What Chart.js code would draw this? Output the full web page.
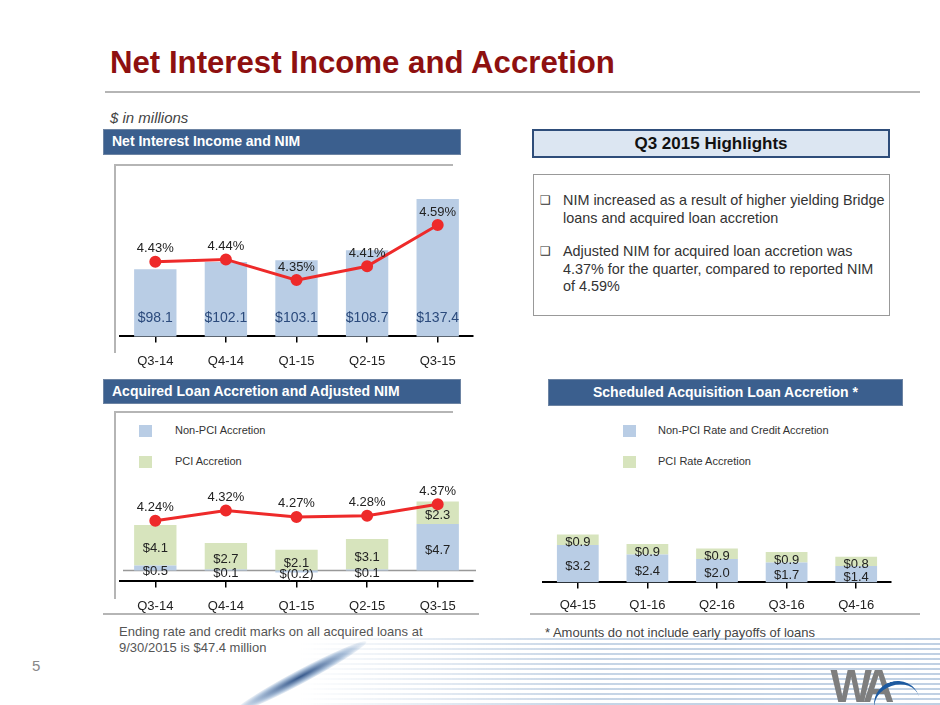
<!DOCTYPE html>
<html>
<head>
<meta charset="utf-8">
<script src="https://cdn.jsdelivr.net/npm/chart.js@4.4.1/dist/chart.umd.min.js"></script>
<style>
  body { margin: 0; background: #fff; font-family: "Liberation Sans", Arial, sans-serif; }
  #page { position: relative; width: 940px; height: 705px; overflow: hidden; }
  .abs { position: absolute; }
  .hdr { background: #3b5f8e; color: #fff; font-weight: bold; font-size: 14px; border: 1px solid #6d84a3; box-sizing: border-box; }
  .gl { background: #b5b5b5; }
  .leg { width: 13px; height: 12px; }
  .legt { font-size: 11px; color: #333; }
  .blt { font-size: 14.4px; color: #333; line-height: 17.5px; }
  .bx { font-family: "DejaVu Sans", sans-serif; font-size: 12px; color: #333; }
</style>
</head>
<body>
<div id="page">
  <!-- bottom decoration -->
  <div class="abs" style="left:300px;top:638px;width:640px;height:67px;background:repeating-linear-gradient(180deg, rgba(140,170,205,0.55) 0 2px, rgba(255,255,255,0) 2px 5px);-webkit-mask-image:linear-gradient(to right, transparent 0%, rgba(0,0,0,0.9) 45%, #000 100%);"></div>
  <div class="abs" style="left:225px;top:670px;width:150px;height:14px;border-radius:50%;background:radial-gradient(ellipse at center, rgba(20,60,120,0.85) 0%, rgba(60,110,170,0.4) 50%, rgba(255,255,255,0) 75%);transform:rotate(-28deg);"></div>

  <div class="abs" style="left:110px;top:45px;font-size:31.2px;font-weight:bold;color:#8e1010;white-space:nowrap;">Net Interest Income and Accretion</div>
  <div class="abs gl" style="left:105px;top:91px;width:815px;height:2px;"></div>
  <div class="abs" style="left:110px;top:109px;font-size:15px;font-style:italic;color:#444;">$ in millions</div>

  <div class="abs hdr" style="left:103px;top:129px;width:358px;height:26px;padding:3px 0 0 8px;">Net Interest Income and NIM</div>
  <div class="abs gl" style="left:115px;top:164px;width:338px;height:2px;"></div>
  <div class="abs gl" style="left:114px;top:164px;width:2px;height:189px;"></div>

  <div class="abs hdr" style="left:103px;top:379px;width:358px;height:25px;padding:3px 0 0 8px;">Acquired Loan Accretion and Adjusted NIM</div>
  <div class="abs gl" style="left:115px;top:411px;width:338px;height:2px;"></div>
  <div class="abs gl" style="left:114px;top:411px;width:2px;height:188px;"></div>
  <div class="abs gl" style="left:103px;top:613px;width:376px;height:2px;"></div>

  <div class="abs leg" style="left:139px;top:425px;background:#b9cde5;"></div>
  <div class="abs legt" style="left:175px;top:424px;">Non-PCI Accretion</div>
  <div class="abs leg" style="left:139px;top:456px;background:#d7e4bd;"></div>
  <div class="abs legt" style="left:175px;top:455px;">PCI Accretion</div>

  <div class="abs" style="left:119px;top:624px;font-size:13px;color:#555;line-height:16px;">Ending rate and credit marks on all acquired loans at<br>9/30/2015 is $47.4 million</div>

  <div class="abs" style="left:532px;top:129px;width:358px;height:29px;background:#dce6f2;border:2px solid #2e4d7a;box-sizing:border-box;text-align:center;font-weight:bold;font-size:17px;line-height:25px;color:#111;">Q3 2015 Highlights</div>
  <div class="abs" style="left:533px;top:174px;width:357px;height:142px;border:1px solid #999;box-sizing:border-box;"></div>
  <div class="abs bx" style="left:540px;top:193px;">&#10065;</div>
  <div class="abs blt" style="left:563px;top:192px;">NIM increased as a result of higher yielding Bridge<br>loans and acquired loan accretion</div>
  <div class="abs bx" style="left:540px;top:244px;">&#10065;</div>
  <div class="abs blt" style="left:563px;top:243px;">Adjusted NIM for acquired loan accretion was<br>4.37% for the quarter, compared to reported NIM<br>of 4.59%</div>

  <div class="abs hdr" style="left:548px;top:379px;width:355px;height:27px;padding-top:4px;text-align:center;">Scheduled Acquisition Loan Accretion *</div>
  <div class="abs leg" style="left:623px;top:425px;background:#b9cde5;"></div>
  <div class="abs legt" style="left:658px;top:424px;">Non-PCI Rate and Credit Accretion</div>
  <div class="abs leg" style="left:623px;top:456px;background:#d7e4bd;"></div>
  <div class="abs legt" style="left:658px;top:455px;">PCI Rate Accretion</div>
  <div class="abs gl" style="left:530px;top:613px;width:390px;height:2px;"></div>
  <div class="abs" style="left:545px;top:625px;font-size:13px;color:#444;">* Amounts do not include early payoffs of loans</div>

  <div class="abs" style="left:32px;top:657px;font-size:15px;color:#888;">5</div>
  <div class="abs" style="left:829px;top:659px;font-size:46px;font-weight:bold;color:#7e7e7e;letter-spacing:-7px;transform:scaleX(0.95);">WA</div>
  <div class="abs" style="left:874px;top:681px;width:46px;height:40px;border-top:4px solid #1d5aa0;border-radius:50%;transform:rotate(-18deg);"></div>

  <canvas id="c1" class="abs" style="left:100px;top:160px;width:390px;height:226px;"></canvas>
  <canvas id="c2" class="abs" style="left:100px;top:407px;width:390px;height:226px;"></canvas>
  <canvas id="c3" class="abs" style="left:530px;top:407px;width:380px;height:225px;"></canvas>
</div>
<script>
const quarters = ['Q3-14', 'Q4-14', 'Q1-15', 'Q2-15', 'Q3-15'];
const netInterestIncome = [98.1, 102.1, 103.1, 108.7, 137.4];
const nim = [4.43, 4.44, 4.35, 4.41, 4.59];

const nonPciAccretion = [0.5, 0.1, -0.2, 0.1, 4.7];
const pciAccretion = [4.1, 2.7, 2.1, 3.1, 2.3];
const adjustedNim = [4.24, 4.32, 4.27, 4.28, 4.37];

const futureQuarters = ['Q4-15', 'Q1-16', 'Q2-16', 'Q3-16', 'Q4-16'];
const scheduledNonPci = [3.2, 2.4, 2.0, 1.7, 1.4];
const scheduledPci = [0.9, 0.9, 0.9, 0.9, 0.8];

const FONT = '"Liberation Sans", Arial, sans-serif';
const BLUE = '#b9cde5';
const GREEN = '#d7e4bd';
const RED = '#ee2a2a';

Chart.defaults.font.family = FONT;
Chart.defaults.animation = false;

function money(v) {
    return v < 0 ? '$(' + Math.abs(v).toFixed(1) + ')' : '$' + v.toFixed(1);
}

function xAxis(pad) {
    return {
        stacked: true,
        grid: { display: true, drawOnChartArea: false, offset: false, tickLength: 6, color: '#000', lineWidth: 1.5 },
        border: { display: true, color: '#000', width: 2 },
        ticks: { color: '#222', font: { size: 13 }, padding: pad }
    };
}

// labels drawn on top of the bars and points
const labelPlugin = {
    id: 'valueLabels',
    afterDatasetsDraw(chart, args, opts) {
        const ctx = chart.ctx;
        const bottom = chart.chartArea.bottom;
        ctx.save();
        ctx.textAlign = 'center';
        ctx.textBaseline = 'middle';
        chart.data.datasets.forEach((ds, i) => {
            const meta = chart.getDatasetMeta(i);
            meta.data.forEach((el, j) => {
                const v = ds.data[j];
                if (ds.type === 'line') {
                    ctx.fillStyle = '#222';
                    ctx.font = '13px ' + FONT;
                    ctx.fillText(v.toFixed(2) + '%', el.x, el.y - 13);
                } else if (opts.mode === 'base') {
                    ctx.fillStyle = '#2b4a7c';
                    ctx.font = '14px ' + FONT;
                    ctx.fillText(money(v), el.x, Math.min(el.base, bottom) - 18);
                } else {
                    ctx.fillStyle = '#222';
                    ctx.font = '13px ' + FONT;
                    ctx.fillText(money(v), el.x, (el.y + el.base) / 2 + 3);
                }
            });
        });
        ctx.restore();
    }
};

// thin gray line at zero
const zeroLine = {
    id: 'zeroLine',
    beforeDatasetsDraw(chart) {
        const y = chart.scales.y.getPixelForValue(0);
        const a = chart.chartArea;
        const ctx = chart.ctx;
        ctx.save();
        ctx.strokeStyle = '#999';
        ctx.lineWidth = 1.5;
        ctx.beginPath();
        ctx.moveTo(a.left + 3, y);
        ctx.lineTo(a.right + 3, y);
        ctx.stroke();
        ctx.restore();
    }
};

new Chart(document.getElementById('c1'), {
    data: {
        labels: quarters,
        datasets: [
            { type: 'line', data: nim, yAxisID: 'y1', order: 0, borderColor: RED, backgroundColor: RED, borderWidth: 3, pointRadius: 4.5, pointHoverRadius: 4.5 },
            { type: 'bar', data: netInterestIncome, yAxisID: 'y', order: 1, backgroundColor: BLUE, barPercentage: 0.6, categoryPercentage: 1 }
        ]
    },
    options: {
        responsive: false,
        layout: { padding: { left: 20, right: 17, top: 5, bottom: 6 } },
        plugins: { legend: { display: false }, tooltip: { enabled: false }, valueLabels: { mode: 'base' } },
        scales: {
            x: xAxis(11),
            y: { display: false, min: 60.5, max: 155 },
            y1: { display: false, min: 4.105, max: 4.84 }
        }
    },
    plugins: [labelPlugin]
});

new Chart(document.getElementById('c2'), {
    data: {
        labels: quarters,
        datasets: [
            { type: 'line', data: adjustedNim, yAxisID: 'y1', order: 0, borderColor: RED, backgroundColor: RED, borderWidth: 3, pointRadius: 4.5, pointHoverRadius: 4.5 },
            { type: 'bar', label: 'Non-PCI Accretion', data: nonPciAccretion, yAxisID: 'y', order: 1, backgroundColor: BLUE, barPercentage: 0.6, categoryPercentage: 1 },
            { type: 'bar', label: 'PCI Accretion', data: pciAccretion, yAxisID: 'y', order: 1, backgroundColor: GREEN, barPercentage: 0.6, categoryPercentage: 1 }
        ]
    },
    options: {
        responsive: false,
        layout: { padding: { left: 20, right: 17, top: 5, bottom: 8 } },
        plugins: { legend: { display: false }, tooltip: { enabled: false }, valueLabels: { mode: 'mid' } },
        scales: {
            x: xAxis(11),
            y: { display: false, stacked: true, min: -1.1, max: 15.8 },
            y1: { display: false, min: 3.76, max: 5.08 }
        }
    },
    plugins: [zeroLine, labelPlugin]
});

new Chart(document.getElementById('c3'), {
    type: 'bar',
    data: {
        labels: futureQuarters,
        datasets: [
            { label: 'Non-PCI Rate and Credit Accretion', data: scheduledNonPci, backgroundColor: BLUE, barPercentage: 0.6, categoryPercentage: 1 },
            { label: 'PCI Rate Accretion', data: scheduledPci, backgroundColor: GREEN, barPercentage: 0.6, categoryPercentage: 1 }
        ]
    },
    options: {
        responsive: false,
        layout: { padding: { left: 13, right: 19, top: 5, bottom: 10 } },
        plugins: { legend: { display: false }, tooltip: { enabled: false }, valueLabels: { mode: 'mid' } },
        scales: {
            x: xAxis(9),
            y: { display: false, stacked: true, min: 0, max: 14.6 }
        }
    },
    plugins: [labelPlugin]
});
</script>
</body>
</html>
